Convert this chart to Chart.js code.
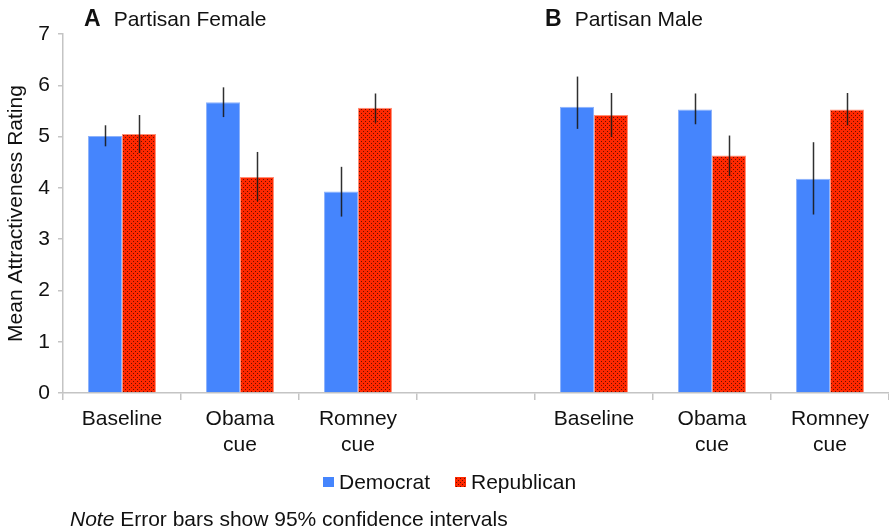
<!DOCTYPE html>
<html>
<head>
<meta charset="utf-8">
<script src="https://cdn.jsdelivr.net/npm/chart.js@4/dist/chart.umd.min.js"></script>
<style>
  html, body { margin: 0; padding: 0; background: #fff; }
  #wrap { position: relative; width: 889px; height: 531px; overflow: hidden; font-family: "Liberation Sans", Arial, Helvetica, sans-serif; color: #111; }
  #chart { position: absolute; left: 0; top: 0; }
  .txt { position: absolute; font-size: 21px; line-height: 21px; white-space: nowrap; }
  .panel b { font-size: 23px; margin-right: 13px; }
  .swatch { position: absolute; width: 11px; height: 10px; }
</style>
</head>
<body>
<div id="wrap">
  <canvas id="chart" width="889" height="531"></canvas>
  <div class="txt panel" style="left:84px; top:8px;"><b>A</b>Partisan Female</div>
  <div class="txt panel" style="left:545px; top:8px;"><b>B</b>Partisan Male</div>
  <div class="swatch" id="swDem" style="left:323px; top:477px;"></div>
  <div class="txt" style="left:339px; top:471px;">Democrat</div>
  <div class="swatch" id="swRep" style="left:455px; top:477px;"></div>
  <div class="txt" style="left:471px; top:471px;">Republican</div>
  <div class="txt" style="left:70px; top:508px;"><i>Note</i> Error bars show 95% confidence intervals</div>
</div>
<script>
// Categories: two panels (female / male targets) separated by an empty slot
const categories = ['Baseline', ['Obama', 'cue'], ['Romney', 'cue'], '', 'Baseline', ['Obama', 'cue'], ['Romney', 'cue']];

// Mean attractiveness ratings
const democrat   = [5.01, 5.67, 3.93, null, 5.58, 5.53, 4.18];
const republican = [5.05, 4.21, 5.56, null, 5.42, 4.63, 5.53];

// 95% confidence interval bounds
const democratLow    = [4.81, 5.38, 3.44, null, 5.15, 5.24, 3.48];
const democratHigh   = [5.22, 5.96, 4.41, null, 6.17, 5.84, 4.89];
const republicanLow  = [4.68, 3.74, 5.27, null, 4.99, 4.23, 5.22];
const republicanHigh = [5.42, 4.70, 5.84, null, 5.85, 5.02, 5.85];

const yTicks = [0, 1, 2, 3, 4, 5, 6, 7];

const BLUE = '#4585fd';
const FONT = '"Liberation Sans", Arial, Helvetica, sans-serif';

// Dotted red fill for the Republican bars
const tile = document.createElement('canvas');
tile.width = 4; tile.height = 4;
const tctx = tile.getContext('2d');
tctx.fillStyle = '#ff2800';
tctx.fillRect(0, 0, 4, 4);
tctx.fillStyle = '#6a1000';
tctx.fillRect(1, 1, 1, 1);
tctx.fillRect(3, 3, 1, 1);
const redPattern = document.getElementById('chart').getContext('2d').createPattern(tile, 'repeat');

document.getElementById('swDem').style.background = BLUE;
document.getElementById('swRep').style.background = '#ff2800 url(' + tile.toDataURL() + ')';

const bounds = [
  { low: democratLow, high: democratHigh },
  { low: republicanLow, high: republicanHigh }
];

// Draws the vertical confidence-interval lines on top of each bar
const errorBars = {
  id: 'errorBars',
  afterDatasetsDraw(chart) {
    const ctx = chart.ctx;
    const y = chart.scales.y;
    ctx.save();
    ctx.strokeStyle = 'rgba(25,25,25,0.9)';
    ctx.lineWidth = 1.5;
    chart.data.datasets.forEach((ds, i) => {
      const meta = chart.getDatasetMeta(i);
      const b = bounds[i];
      meta.data.forEach((bar, j) => {
        if (b.low[j] == null) return;
        const x = Math.round(bar.x) + 0.5;
        ctx.beginPath();
        ctx.moveTo(x, y.getPixelForValue(b.low[j]));
        ctx.lineTo(x, y.getPixelForValue(b.high[j]));
        ctx.stroke();
      });
    });
    ctx.restore();
  }
};

new Chart(document.getElementById('chart'), {
  type: 'bar',
  data: {
    labels: categories,
    datasets: [
      { label: 'Democrat', data: democrat, backgroundColor: BLUE, borderColor: '#8db2fb', borderWidth: 1 },
      { label: 'Republican', data: republican, backgroundColor: redPattern, borderColor: '#ff8f78', borderWidth: 1 }
    ]
  },
  options: {
    responsive: false,
    animation: false,
    devicePixelRatio: 1,
    categoryPercentage: 0.576,
    barPercentage: 1,
    layout: { padding: { top: 34, left: 0, right: 0, bottom: 0 } },
    plugins: { legend: { display: false }, tooltip: { enabled: false } },
    scales: {
      x: {
        afterFit(s) { s.height = 138; },
        grid: { offset: true, drawOnChartArea: false, drawTicks: true, tickLength: 7, color: '#c4c4c4', lineWidth: 1.5 },
        border: { color: '#c4c4c4', width: 1.5 },
        ticks: { autoSkip: false, maxRotation: 0, padding: 7, color: '#111', font: { family: FONT, size: 21, lineHeight: 1.2 } }
      },
      y: {
        min: 0, max: 7,
        afterFit(s) { s.width = 63; },
        afterBuildTicks(s) { s.ticks = yTicks.map(v => ({ value: v })); },
        grid: { drawOnChartArea: false, drawTicks: true, tickLength: 5, color: '#c4c4c4', lineWidth: 1.5 },
        border: { color: '#c4c4c4', width: 1.5 },
        ticks: { padding: 8, color: '#111', font: { family: FONT, size: 21 } },
        title: { display: true, text: 'Mean Attractiveness Rating', color: '#111', font: { family: FONT, size: 21 }, padding: { top: 4, bottom: 4 } }
      }
    }
  },
  plugins: [errorBars]
});
</script>
</body>
</html>
